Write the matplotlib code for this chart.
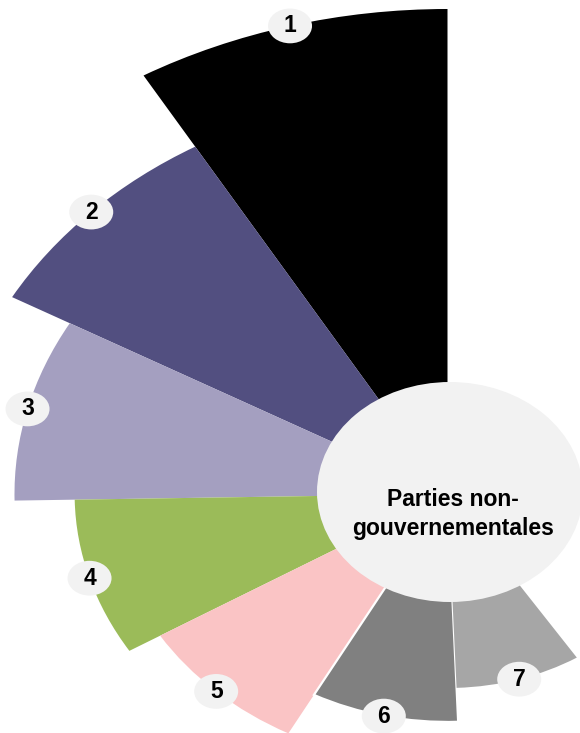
import numpy as np
import matplotlib
matplotlib.use("Agg")
import matplotlib.pyplot as plt
from matplotlib.patches import Ellipse
from matplotlib.path import Path
from matplotlib.transforms import Affine2D

# ---- data ----
labels = ["1", "2", "3", "4", "5", "6", "7"]
values = [100, 83, 72, 62, 56, 47, 40]
colors = ["#000000", "#524f80", "#a49fc0", "#9bbb59", "#fac4c5", "#808080", "#a6a6a6"]
center_label = "Parties non-\ngouvernementales"

# ---- layout ----
W, H, DPI = 580, 733, 100
fig = plt.figure(figsize=(W / DPI, H / DPI), dpi=DPI)
fig.patch.set_facecolor("white")

cx, cy = 447.5, 494        # pixel centre of the rose (from top-left)
px_per_unit = 4.85         # vertical pixels per value unit
stretch = 1.24             # horizontal stretch of the chart
rmax = 110
hh = rmax * px_per_unit
hw = hh * stretch
left = (cx - hw) / W
bottom = ((H - cy) - hh) / H
ax = fig.add_axes([left, bottom, 2 * hw / W, 2 * hh / H], projection="polar")
ax.set_aspect("auto")
ax.set_ylim(0, rmax)
ax.axis("off")

start = np.deg2rad(90)
width = np.deg2rad(30.36)
n = len(values)
thetas = start + width * np.arange(n)
edge_w = [0, 0, 0, 0, 0, 1.6, 0]
ax.bar(thetas, values, width=width, align="edge", color=colors,
       edgecolor="white", linewidth=edge_w, zorder=2)

# number bubbles
bubble = Path.unit_circle().transformed(Affine2D().scale(1.0, 0.79))
mid = thetas + width / 2
ax.scatter(mid, values, s=(44 * 72 / DPI) ** 2, marker=bubble,
           color="#f2f2f2", edgecolors="none", zorder=4, clip_on=False)
for t, v, lab in zip(mid, values, labels):
    ax.text(t, v, lab, ha="center", va="center", fontsize=16.5,
            fontweight="bold", family="Liberation Sans", color="black",
            zorder=5)

# centre ellipse and label
ell = Ellipse((450 / W, 1 - 492 / H), 266 / W, 220 / H,
              transform=fig.transFigure, facecolor="#f2f2f2",
              edgecolor="none", zorder=3)
fig.add_artist(ell)
fig.text(453 / W, 1 - 514 / H, center_label, ha="center", va="center",
         fontsize=16.5, fontweight="bold", family="Liberation Sans",
         linespacing=1.3, multialignment="center", color="black",
         zorder=4)

fig.savefig("out.png", dpi=DPI, facecolor="white")
